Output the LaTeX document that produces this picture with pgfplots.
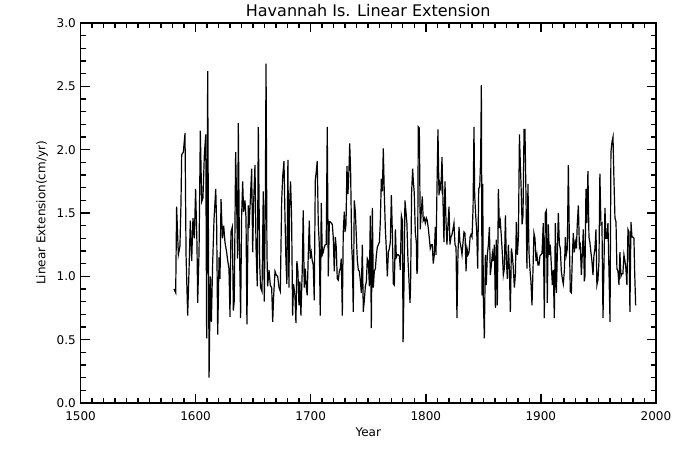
\documentclass[border=0pt]{standalone}
\usepackage{fontspec}
\setmainfont{DejaVu Sans}
\usepackage{pgfplots}
\pgfplotsset{compat=1.18}

\pgfplotstableread{
year ext
1581.2 0.90
1582.7 0.87
1583.5 1.55
1585.0 1.17
1586.4 1.24
1587.3 1.58
1587.9 1.96
1589.3 1.98
1590.8 2.13
1591.7 1.17
1593.1 0.69
1594.3 1.05
1595.4 1.44
1596.6 1.12
1597.7 1.46
1598.9 1.30
1600.0 1.69
1601.2 1.25
1601.8 0.79
1603.0 1.20
1604.1 2.15
1605.3 1.59
1606.4 1.62
1607.6 1.96
1608.8 2.12
1609.6 0.51
1610.5 2.62
1611.7 0.20
1612.8 1.00
1613.7 0.64
1614.8 1.10
1616.0 1.45
1617.5 1.69
1618.3 1.40
1619.2 0.54
1620.4 1.15
1621.2 0.98
1622.1 1.61
1623.3 1.30
1624.4 1.40
1625.5 1.27
1627.0 1.19
1627.8 1.13
1629.0 1.06
1629.9 0.68
1630.7 1.35
1631.9 1.39
1632.8 0.73
1633.6 0.81
1634.8 1.98
1635.7 1.56
1636.5 1.14
1637.1 2.21
1638.0 1.30
1639.1 0.67
1640.0 1.48
1640.9 1.75
1641.7 1.51
1642.9 1.60
1643.8 1.46
1644.6 0.62
1645.8 1.56
1646.4 1.38
1647.5 1.59
1648.7 1.85
1649.6 1.19
1650.4 1.58
1651.6 1.88
1652.5 1.23
1653.6 0.92
1654.5 2.18
1655.7 1.09
1656.5 0.91
1657.7 0.88
1658.8 1.67
1659.7 0.80
1660.6 1.60
1661.2 2.68
1662.0 1.19
1662.6 0.92
1663.8 1.05
1664.9 0.93
1666.1 0.91
1667.0 0.64
1667.8 0.84
1669.0 1.04
1670.1 1.01
1671.3 1.00
1672.5 0.91
1673.6 0.88
1674.8 1.60
1675.7 1.79
1676.8 1.91
1677.6 1.50
1678.5 1.12
1679.3 0.94
1680.2 1.92
1681.1 0.91
1681.7 1.56
1682.5 1.75
1683.4 1.48
1684.3 0.69
1685.1 0.94
1686.3 0.85
1687.2 0.63
1688.0 1.12
1688.9 1.04
1689.8 0.77
1690.6 0.96
1691.5 0.69
1692.7 1.06
1693.5 1.52
1694.4 0.91
1695.3 1.06
1696.2 0.91
1697.0 0.85
1697.9 1.17
1698.8 1.44
1699.6 1.14
1700.5 1.19
1701.4 1.12
1702.2 1.09
1703.1 0.81
1704.0 1.76
1704.9 1.83
1705.7 1.91
1706.6 1.41
1707.5 1.25
1708.3 0.69
1709.2 1.58
1710.1 1.17
1710.9 1.19
1711.8 1.23
1712.7 1.25
1713.5 1.25
1714.4 2.18
1715.3 1.00
1716.2 1.43
1717.0 1.43
1717.9 1.42
1718.8 1.41
1719.6 1.31
1720.5 1.04
1721.4 1.31
1722.2 1.23
1723.1 0.98
1724.0 0.97
1724.9 1.04
1725.7 1.06
1726.6 1.14
1727.5 0.69
1728.3 1.35
1729.2 1.51
1729.8 1.35
1730.7 1.41
1731.5 1.87
1732.4 1.65
1733.3 1.85
1733.9 2.05
1734.7 1.83
1735.6 1.25
1736.2 1.13
1737.0 0.72
1737.9 1.60
1738.8 1.51
1739.7 1.31
1740.5 1.13
1741.4 1.05
1742.3 1.04
1743.1 0.97
1744.0 0.87
1744.9 1.25
1745.7 0.72
1746.6 0.81
1747.5 0.92
1748.4 0.96
1749.2 1.14
1750.1 1.12
1751.0 0.92
1751.8 1.48
1752.7 0.59
1753.6 1.54
1754.4 0.91
1755.3 1.04
1756.2 1.06
1757.1 1.17
1757.9 1.23
1758.8 1.25
1759.7 1.27
1760.5 1.43
1761.4 1.77
1762.3 1.67
1763.1 2.01
1764.0 1.64
1764.9 1.37
1765.7 1.22
1766.6 1.00
1767.5 1.19
1768.4 1.22
1769.2 1.27
1770.1 1.64
1771.0 1.33
1771.8 0.94
1772.7 0.93
1773.6 1.37
1774.4 1.15
1775.3 1.17
1776.2 1.17
1777.1 1.16
1777.9 1.05
1778.8 1.48
1779.7 1.44
1780.3 0.48
1781.1 0.94
1781.9 1.60
1782.8 1.51
1783.6 1.42
1784.5 1.14
1785.4 0.97
1786.3 0.79
1786.8 0.93
1787.7 1.66
1788.6 1.85
1789.2 1.75
1790.0 1.66
1790.9 1.35
1791.8 1.27
1792.3 1.02
1792.9 1.06
1793.5 2.18
1794.4 2.17
1795.2 1.37
1796.1 1.51
1797.0 1.63
1797.8 1.44
1798.7 1.46
1799.6 1.42
1800.5 1.46
1801.3 1.44
1802.2 1.38
1803.1 1.30
1803.9 1.22
1804.8 1.25
1805.7 1.25
1806.5 1.10
1807.4 1.17
1808.3 1.39
1808.9 1.17
1809.7 1.67
1810.6 2.16
1811.5 1.64
1812.3 1.73
1813.2 1.69
1814.1 1.94
1815.0 1.58
1815.8 1.27
1816.7 1.75
1817.6 1.43
1818.4 1.25
1819.3 1.41
1820.2 1.55
1821.0 1.25
1821.9 1.31
1822.8 1.33
1823.6 1.37
1824.5 1.42
1825.4 1.25
1826.3 1.23
1827.1 0.67
1828.0 1.19
1828.9 1.39
1829.7 1.27
1830.6 1.23
1831.5 1.17
1832.3 1.26
1833.2 1.35
1834.1 1.34
1835.0 1.04
1835.8 1.22
1836.7 1.17
1837.6 1.19
1838.5 1.31
1839.3 1.33
1840.2 1.31
1841.1 1.54
1841.9 2.18
1842.5 1.64
1843.4 1.48
1844.3 1.35
1845.1 1.06
1846.0 1.69
1846.9 1.71
1847.7 1.93
1848.3 2.51
1848.9 0.85
1849.5 1.73
1850.0 0.84
1850.9 0.51
1851.8 1.17
1852.6 0.93
1853.5 1.17
1854.4 1.25
1855.3 1.39
1856.1 1.01
1857.0 1.09
1857.9 1.18
1858.7 1.12
1859.6 1.25
1860.5 0.75
1861.3 1.29
1862.2 0.77
1863.1 1.69
1864.0 1.38
1864.8 1.43
1865.7 1.31
1866.6 1.17
1867.4 1.01
1868.3 1.06
1869.2 1.48
1870.0 1.13
1870.9 0.98
1871.8 1.25
1872.7 1.04
1873.5 0.72
1874.4 1.22
1875.3 1.16
1876.1 1.06
1877.0 0.91
1877.9 1.02
1878.7 1.43
1879.6 1.17
1880.5 1.31
1881.4 2.12
1882.2 1.88
1882.8 1.72
1883.7 1.41
1884.5 1.48
1885.4 2.16
1886.2 2.16
1887.1 1.62
1887.9 1.06
1888.8 1.73
1889.7 1.19
1890.5 1.06
1891.4 0.96
1892.3 0.77
1893.2 1.06
1894.0 1.34
1894.9 1.30
1895.8 1.12
1896.6 1.17
1897.5 1.09
1898.4 1.09
1899.2 1.16
1900.1 1.17
1901.0 1.18
1902.1 1.42
1903.0 0.67
1903.9 1.50
1904.8 1.52
1905.6 0.79
1906.5 1.41
1907.4 1.17
1908.2 1.25
1909.1 1.09
1910.0 0.93
1910.8 1.05
1911.7 0.67
1912.6 1.42
1913.5 0.87
1914.3 1.17
1915.2 1.50
1916.1 1.25
1916.9 1.22
1917.8 1.04
1918.7 0.98
1919.5 0.94
1920.4 1.04
1921.3 1.31
1922.1 1.17
1923.0 1.22
1923.9 1.88
1924.8 1.27
1925.6 0.88
1926.5 0.87
1927.4 1.17
1928.2 1.34
1929.1 1.19
1930.0 1.27
1930.9 1.22
1931.7 1.42
1932.6 1.56
1933.5 1.23
1934.3 1.25
1935.2 1.01
1936.1 1.19
1936.9 1.37
1937.8 0.96
1938.3 1.00
1939.2 1.69
1940.0 1.42
1940.9 1.83
1941.8 1.31
1942.6 1.27
1943.5 1.19
1944.4 1.12
1945.3 1.01
1946.1 1.16
1947.0 1.22
1947.9 1.37
1948.7 0.93
1949.6 0.97
1950.5 1.12
1951.3 1.81
1952.2 1.41
1953.1 1.42
1954.0 0.67
1954.8 1.06
1955.7 1.54
1956.6 1.30
1957.4 1.30
1958.3 1.42
1959.2 1.04
1960.1 0.64
1960.9 1.98
1961.8 2.06
1962.7 2.10
1963.5 1.77
1964.4 1.46
1965.3 1.43
1966.1 1.06
1967.0 1.04
1967.9 0.93
1968.7 1.19
1969.6 1.00
1970.5 1.02
1971.3 1.02
1972.2 1.17
1973.1 1.12
1973.9 1.06
1974.8 0.93
1975.7 1.37
1976.6 1.35
1977.4 0.72
1978.3 1.43
1979.2 1.31
1980.0 1.31
1980.9 1.30
1981.5 1.04
1982.4 0.77
}\havannah

\begin{document}
\begin{tikzpicture}[x=1pt,y=1pt]
% 675x450 px page, 1px = 0.75pt; axis box at (80.5,23)-(656,403) px
\useasboundingbox (-60.4,-35.25) rectangle (445.9,302.25);
\begin{axis}[
    at={(0,0)}, anchor=south west,
    scale only axis,
    width=431.6pt, height=285pt,
    xmin=1500, xmax=2000,
    ymin=0, ymax=3,
    xtick distance=100, ytick distance=0.5,
    minor x tick num=9, minor y tick num=4,
    tick align=inside,
    major tick length=6.75pt, minor tick length=3.75pt,
    axis line style={black, line width=1.1pt},
    tick style={black, line width=1.1pt},
    /pgf/number format/assume math mode=true,
    tick label style={font=\fontsize{9}{10}\selectfont},
    xticklabel style={/pgf/number format/1000 sep={}, anchor=center, yshift=-9.75pt},
    yticklabel style={/pgf/number format/fixed, /pgf/number format/fixed zerofill,
        /pgf/number format/precision=1},
    title={Havannah Is. Linear Extension},
    every axis title/.style={at={(0.5,1)}, anchor=base, yshift=5pt,
        font=\fontsize{12}{13}\selectfont},
    xlabel={Year},
    xlabel style={at={(axis description cs:0.5,0)}, anchor=center, yshift=-21.75pt,
        font=\fontsize{9}{10}\selectfont},
    ylabel={Linear Extension(cm/yr)},
    ylabel style={at={(axis description cs:-0.067,0.5)}, anchor=center,
        font=\fontsize{9}{10}\selectfont},
]
\addplot[black, line width=0.9pt] table[x=year, y=ext] {\havannah};
\end{axis}
\end{tikzpicture}
\end{document}
